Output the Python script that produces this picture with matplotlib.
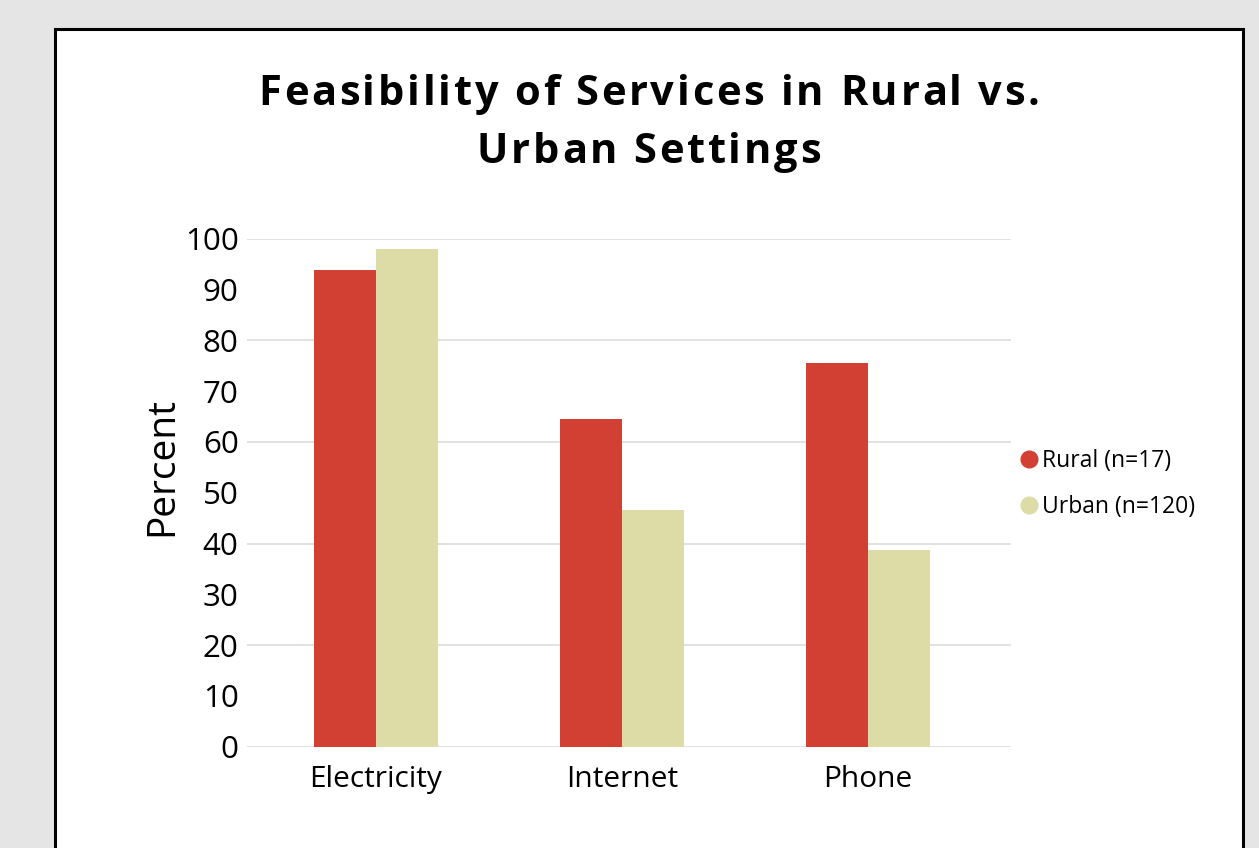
import matplotlib
matplotlib.use("Agg")
import matplotlib.pyplot as plt
from matplotlib.patches import Rectangle
from matplotlib.lines import Line2D
import numpy as np

categories = ["Electricity", "Internet", "Phone"]
rural = [93.8, 64.6, 75.6]
urban = [97.9, 46.6, 38.8]
series_labels = ["Rural (n=17)", "Urban (n=120)"]
yticks = [0, 10, 20, 30, 40, 50, 60, 70, 80, 90, 100]
title_lines = ["Feasibility of Services in Rural vs.", "Urban Settings"]

RED = "#d14033"
BEIGE = "#dddba6"

plt.rcParams['font.family'] = ['Open Sans', 'DejaVu Sans']

W, H = 1259, 848
fig = plt.figure(figsize=(W / 100, H / 100), dpi=100, facecolor="#e5e5e5")

# white panel with black border
panel = Rectangle((54.5 / W, -0.05), (1243 - 54.5) / W, 1 - 28.5 / H + 0.05,
                  transform=fig.transFigure, facecolor="white", edgecolor="black",
                  linewidth=2.2, zorder=-10)
fig.patches.append(panel)

ax_left, ax_right = 247 / W, 1011 / W
ax_bottom, ax_top = 1 - 746.8 / H, 1 - 238.6 / H
ax = fig.add_axes([ax_left, ax_bottom, ax_right - ax_left, ax_top - ax_bottom])
ax.set_facecolor("none")

x = np.arange(len(categories))
w = 0.252
ax.bar(x - w / 2, rural, width=w, color=RED, label=series_labels[0], zorder=3)
ax.bar(x + w / 2, urban, width=w, color=BEIGE, label=series_labels[1], zorder=3)

ax.set_xlim(-0.524, 2.581)
ax.set_ylim(0, 100)
ax.set_yticks(yticks)
ax.set_yticklabels([str(t) for t in yticks])
for t in yticks[::2]:
    ax.axhline(t, color="#dcdcdc", linewidth=1.2, zorder=1)
ax.set_xticks(x)
ax.set_xticklabels(categories)
ax.tick_params(axis="both", length=0)
ax.tick_params(axis="y", labelsize=22.5, pad=6)
ax.tick_params(axis="x", labelsize=21.5, pad=13)
for s in ax.spines.values():
    s.set_visible(False)

fig.text(162 / W, 1 - 467 / H, "Percent", rotation=90, ha="center", va="center",
         fontsize=28)

# title with letter spacing, drawn character by character
renderer = fig.canvas.get_renderer()
tkw = dict(fontsize=30, fontweight="bold")


def text_width(s):
    if not s:
        return 0.0
    t = fig.text(0, 0, s, **tkw)
    wpx = t.get_window_extent(renderer).width
    t.remove()
    return wpx


natural = text_width(title_lines[0])
tracking = (782 - natural) / (len(title_lines[0]) - 1)
baselines = [105, 163]
cx = 649
for line, bl in zip(title_lines, baselines):
    total = text_width(line) + tracking * (len(line) - 1)
    x0 = cx - total / 2
    for i, ch in enumerate(line):
        if ch == " ":
            continue
        xp = x0 + text_width(line[:i]) + tracking * i
        fig.text(xp / W, 1 - bl / H, ch, ha="left", va="baseline", **tkw)

handles = [Line2D([], [], marker="o", linestyle="none", markersize=12,
                  markerfacecolor=RED, markeredgecolor=RED),
           Line2D([], [], marker="o", linestyle="none", markersize=12,
                  markerfacecolor=BEIGE, markeredgecolor=BEIGE)]
fig.legend(handles, series_labels, loc="center left",
           bbox_to_anchor=(997 / W, 1 - 484 / H), frameon=False,
           fontsize=16.5, handletextpad=0.05, labelspacing=1.0, handlelength=1.0)

fig.savefig("out.png", dpi=100, facecolor=fig.get_facecolor())
